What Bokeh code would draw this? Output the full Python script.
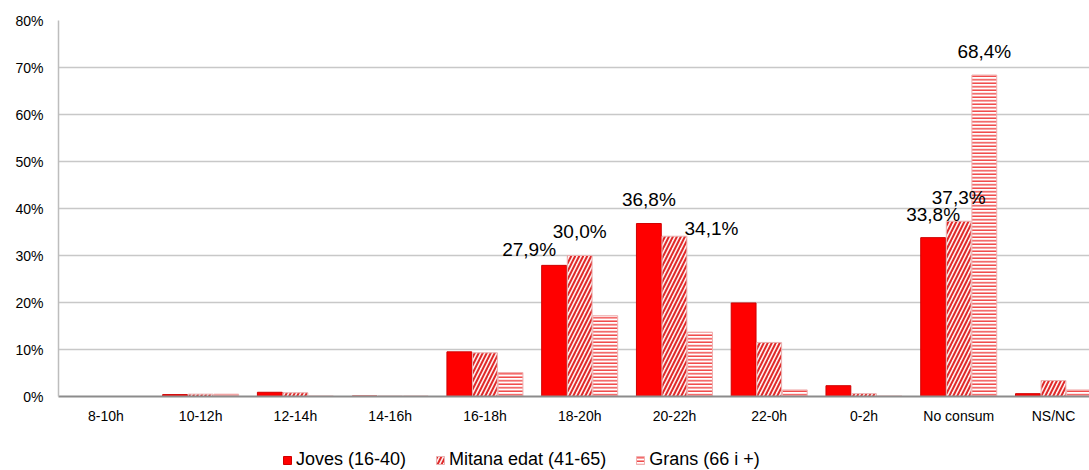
from bokeh.plotting import figure
from bokeh.layouts import column
from bokeh.models import (ColumnDataSource, Range1d, FixedTicker, PrintfTickFormatter,
                          Legend, LegendItem)
from bokeh.core.properties import value
from bokeh.embed import file_html
from bokeh.resources import INLINE

# ---- data ----
categories = ["8-10h", "10-12h", "12-14h", "14-16h", "16-18h", "18-20h",
              "20-22h", "22-0h", "0-2h", "No consum", "NS/NC"]
joves = [0.0, 0.4, 0.9, 0.1, 9.5, 27.9, 36.8, 19.9, 2.3, 33.8, 0.6]
mitana = [0.0, 0.5, 0.8, 0.1, 9.3, 30.0, 34.1, 11.5, 0.6, 37.3, 3.4]
grans = [0.0, 0.5, 0.1, 0.1, 5.1, 17.2, 13.7, 1.4, 0.1, 68.4, 1.4]
series_names = ["Joves (16-40)", "Mitana edat (41-65)", "Grans (66 i +)"]
y_ticks = [0, 10, 20, 30, 40, 50, 60, 70, 80]

# labelled bars: (series index, category index)
label_series = [0, 1, 0, 1, 0, 1, 2]
label_cats = [5, 5, 6, 6, 9, 9, 9]
# label pixel offsets (style)
label_dx = [-25, 0, 0, 37, 0, 0, 0]
label_dy = [-16, -24, -24, -8, -23, -24, -24]

FONT = "Liberation Sans"
BAR_STEP = 0.27
BAR_W = 0.262

xs = [i + 0.5 for i in range(len(categories))]
all_series = [joves, mitana, grans]

src = ColumnDataSource(dict(
    x0=[x - BAR_STEP for x in xs], x1=xs, x2=[x + BAR_STEP for x in xs],
    joves=joves, mitana=mitana, grans=grans))

JOVES_STYLE = dict(fill_color="#FF0000", line_color="#D00000", line_width=1)
MITANA_STYLE = dict(fill_color="#FDF2F2", line_color="#E8B0B0", line_width=1,
                    hatch_pattern="right_diagonal_line", hatch_color="#E02A2A",
                    hatch_scale=8, hatch_weight=2)
GRANS_STYLE = dict(fill_color="#FFFFFF", line_color="#F0B0B0", line_width=1,
                   hatch_pattern="horizontal_line", hatch_color="#F03C3C",
                   hatch_scale=3.5, hatch_weight=1.4)

p = figure(width=1089, height=446, output_backend="svg", toolbar_location=None,
           x_range=Range1d(0, 10.88), y_range=Range1d(0, 80),
           min_border_left=58, min_border_right=0, min_border_top=20,
           min_border_bottom=50)
p.outline_line_color = None
p.background_fill_color = "white"
p.border_fill_color = "white"

# grid
p.xgrid.grid_line_color = None
p.ygrid.grid_line_color = "#C8C8C8"
p.ygrid.grid_line_width = 1.5
p.ygrid.ticker = FixedTicker(ticks=y_ticks)

# axes
p.yaxis.ticker = FixedTicker(ticks=y_ticks)
p.yaxis.formatter = PrintfTickFormatter(format="%d%%")
p.yaxis.axis_line_color = "#BDBDBD"
p.yaxis.axis_line_width = 1.5
p.yaxis.major_tick_line_color = None
p.yaxis.minor_tick_line_color = None
p.yaxis.major_label_standoff = 9
p.yaxis.major_label_text_font = FONT
p.yaxis.major_label_text_font_size = "14px"
p.yaxis.major_label_text_color = "#000000"

p.xaxis.ticker = FixedTicker(ticks=xs)
p.xaxis.major_label_overrides = {x: c for x, c in zip(xs, categories)}
p.xaxis.axis_line_color = "#8C8C8C"
p.xaxis.axis_line_width = 2
p.xaxis.major_tick_line_color = None
p.xaxis.minor_tick_line_color = None
p.xaxis.major_label_standoff = 5
p.xaxis.major_label_text_font = FONT
p.xaxis.major_label_text_font_size = "14px"
p.xaxis.major_label_text_color = "#000000"

# bars
r0 = p.vbar(x="x0", top="joves", width=BAR_W, source=src, **JOVES_STYLE)
r1 = p.vbar(x="x1", top="mitana", width=BAR_W, source=src, **MITANA_STYLE)
r2 = p.vbar(x="x2", top="grans", width=BAR_W, source=src, **GRANS_STYLE)

# data labels
lab_x = [xs[c] + (s - 1) * BAR_STEP for s, c in zip(label_series, label_cats)]
lab_y = [all_series[s][c] for s, c in zip(label_series, label_cats)]
lab_t = [f"{v:.1f}".replace(".", ",") + "%" for v in lab_y]
lsrc = ColumnDataSource(dict(x=lab_x, y=lab_y, t=lab_t, dx=label_dx, dy=label_dy))
p.text(x="x", y="y", text="t", source=lsrc, x_offset="dx", y_offset="dy",
       text_font=value(FONT), text_font_size="19px", text_color="#000000",
       text_align="center", text_baseline="alphabetic")

# legend strip (separate small figure under the chart)
pl = figure(width=1089, height=24, output_backend="svg", toolbar_location=None,
            x_range=Range1d(0, 1), y_range=Range1d(0, 1),
            min_border=0)
pl.axis.visible = False
pl.grid.visible = False
pl.outline_line_color = None
pl.border_fill_color = "white"
dummy = ColumnDataSource(dict(x=[-5.0], top=[0.0]))
l0 = pl.vbar(x="x", top="top", width=0.1, source=dummy, **JOVES_STYLE)
l1 = pl.vbar(x="x", top="top", width=0.1, source=dummy, **MITANA_STYLE)
l2 = pl.vbar(x="x", top="top", width=0.1, source=dummy, **GRANS_STYLE)

legend = Legend(items=[LegendItem(label=series_names[0], renderers=[l0]),
                       LegendItem(label=series_names[1], renderers=[l1]),
                       LegendItem(label=series_names[2], renderers=[l2])],
                orientation="horizontal", location=(224, 0),
                glyph_width=10, glyph_height=10, label_standoff=4, spacing=29,
                label_text_font=FONT, label_text_font_size="18px",
                label_text_color="#000000",
                border_line_color=None, background_fill_alpha=0,
                padding=0, margin=0)
pl.add_layout(legend, "center")

layout = column(p, pl, spacing=0)
open("out.html", "w").write(file_html(layout, INLINE))
